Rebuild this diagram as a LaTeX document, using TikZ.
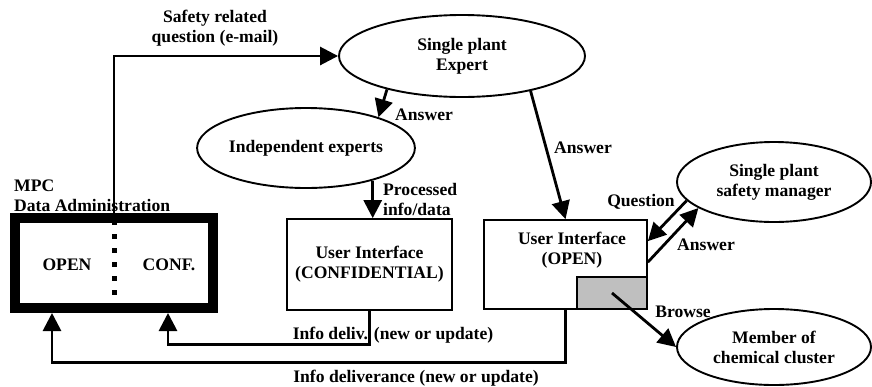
\documentclass[tikz,border=0pt]{standalone}
\usepackage{fontspec}
\setmainfont{Liberation Serif}
\usetikzlibrary{shapes.geometric,arrows.meta,calc}
\begin{document}
\begin{tikzpicture}[x=1pt,y=-1pt,
  every node/.style={font=\fontsize{17.6}{20}\selectfont\bfseries},
  ell/.style={draw, ellipse, line width=1.9pt, inner sep=0pt, align=center},
  box/.style={draw, rectangle, line width=1.7pt, inner sep=0pt, align=center},
  arr/.style={line width=2.8pt, -{Triangle[length=18pt,width=18pt]}},
  lbl/.style={inner sep=0pt, align=center},
]
\useasboundingbox (0,0) rectangle (872,386);

% ellipses
\node[ell, minimum width=246pt, minimum height=82pt] (expert) at (462,56) {Single plant\\Expert};
\node[ell, minimum width=202pt, minimum height=80pt] (indep) at (306,148) {Independent experts};
\node[ell, minimum width=194pt, minimum height=80pt] (mgr) at (774,182) {Single plant\\safety manager};
\node[ell, minimum width=194pt, minimum height=76pt] (member) at (774,347) {Member of\\chemical cluster};

% MPC box
\node[draw, line width=10pt, minimum width=198pt, minimum height=90pt, inner sep=0pt] (mpc) at (114,263) {};
\node[lbl, anchor=west, align=left] (mpclbl) at (14,196) {MPC\\Data Administration};
\node[lbl] (openlbl) at (67,265) {OPEN};
\node[lbl] (conflbl) at (169,265) {CONF.};
\draw[line width=5pt, dash pattern=on 5pt off 9pt] ([yshift=-7pt]mpc.north) -- ([yshift=15pt]mpc.south);

% user interface boxes
\node[box, minimum width=165pt, minimum height=91pt] (conf) at (369.5,264.5) {User Interface\\(CONFIDENTIAL)};
\node[box, minimum width=163pt, minimum height=89pt] (open) at (565.5,264.5) {};
\node[lbl] (opentxt) at (572,250) {User Interface\\(OPEN)};
\node[draw, fill=black!25, line width=1.2pt, minimum width=70pt, minimum height=32pt, inner sep=0pt] (gray) at (612,293) {};

% connectors
\draw[arr] (mpc.north) |- (expert.west);
\node[lbl] (safetylbl) at (215,28) {Safety related\\question (e-mail)};

\draw[arr] (expert.204) -- (indep.23);
\node[lbl, anchor=west] (ans1) at (395,115) {Answer};

\draw[arr] (expert.-27) -- (open.north);
\node[lbl] (ans2) at (583,148) {Answer};

\draw[arr] (indep.-26) -- (indep.-26 |- conf.north);
\node[lbl, anchor=west, align=left] (proc) at (383,199) {Processed\\info/data};

\draw[arr] (conf.south) -- ++(0,34) -| ([xshift=158pt]mpc.south west);
\node[lbl] (deliv1) at (393,335) {Info deliv. (new or update)};

\draw[arr] (open.south) -- ++(0,53) -| ([xshift=42pt]mpc.south west);
\node[lbl] (deliv2) at (416,378) {Info deliverance (new or update)};

\draw[arr] (mgr.192) -- ([yshift=-22pt]open.north east);
\node[lbl] (qlbl) at (641,202) {Question};

\draw[arr] ([yshift=-43pt]open.north east) -- (mgr.199);
\node[lbl] (ans3) at (706,245) {Answer};

\draw[arr] (gray.center) -- (member.west);
\node[lbl] (browse) at (683,312) {Browse};
\end{tikzpicture}
\end{document}
